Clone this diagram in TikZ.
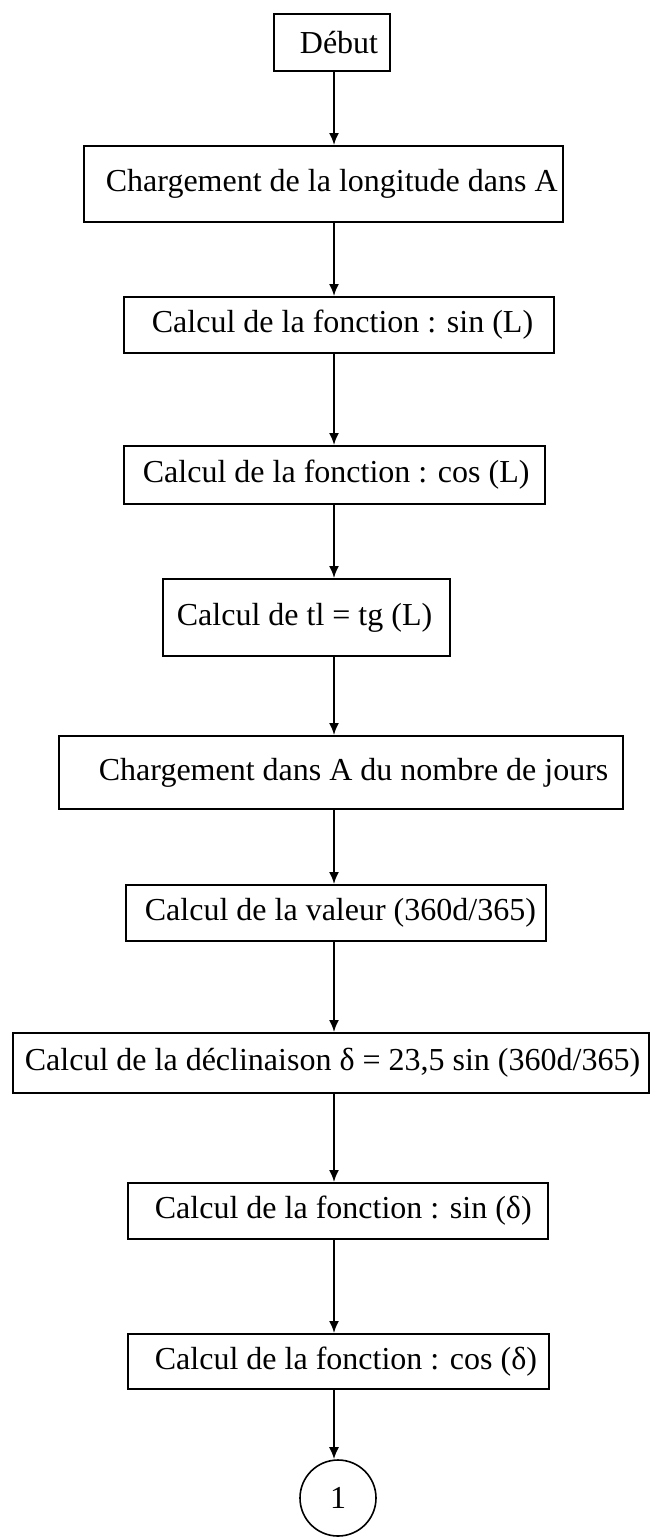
\documentclass[tikz,border=0pt]{standalone}
\usepackage{fontspec}
\setmainfont{Liberation Serif}
\usetikzlibrary{arrows.meta}
\begin{document}
\begin{tikzpicture}[x=1pt,y=-1pt,
  box/.style={draw, line width=1.8pt, inner sep=0pt, anchor=north west,
              font=\fontsize{32}{37}\selectfont},
  link/.style={line width=1.8pt, -{Latex[length=12pt,width=10pt]}},
  conn/.style={draw, circle, line width=1.6pt, inner sep=0pt,
               minimum size=76pt, font=\fontsize{32}{37}\selectfont}]
\useasboundingbox (0,0) rectangle (653,1537);
\coordinate (ax) at (334,0);

% processing steps, top to bottom
\node[box, minimum height=57] (debut) at (273,13)
  {\makebox[116pt][l]{\hspace*{26pt}Début}};
\node[box, minimum height=76] (longi) at (83,145)
  {\makebox[479pt][l]{\hspace*{22pt}Chargement de la longitude dans A}};
\node[box, minimum height=56] (sinL) at (123,296)
  {\makebox[430pt][l]{\hspace*{28pt}Calcul de la fonction : sin (L)}};
\node[box, minimum height=58] (cosL) at (123,445)
  {\makebox[421pt][l]{\hspace*{19pt}Calcul de la fonction : cos (L)}};
\node[box, minimum height=77] (tgL) at (162,578)
  {\makebox[287pt][l]{\hspace*{14pt}Calcul de tl = tg (L)}};
\node[box, minimum height=73] (jours) at (58,735)
  {\makebox[564pt][l]{\hspace*{40pt}Chargement dans A du nombre de jours}};
\node[box, minimum height=56] (valeur) at (125,884)
  {\makebox[420pt][l]{\hspace*{19pt}Calcul de la valeur (360d/365)}};
\node[box, minimum height=60] (decl) at (12,1032)
  {\makebox[636pt][l]{\hspace*{12pt}Calcul de la déclinaison δ = 23,5 sin (360d/365)}};
\node[box, minimum height=56] (sinD) at (127,1182)
  {\makebox[420pt][l]{\hspace*{27pt}Calcul de la fonction : sin (δ)}};
\node[box, minimum height=55] (cosD) at (127,1333)
  {\makebox[421pt][l]{\hspace*{27pt}Calcul de la fonction : cos (δ)}};
\node[conn] (suite) at (338,1498) {1};

% vertical flow arrows
\draw[link] (debut.south -| ax) -- (longi.north -| ax);
\draw[link] (longi.south -| ax) -- (sinL.north -| ax);
\draw[link] (sinL.south -| ax) -- (cosL.north -| ax);
\draw[link] (cosL.south -| ax) -- (tgL.north -| ax);
\draw[link] (tgL.south -| ax) -- (jours.north -| ax);
\draw[link] (jours.south -| ax) -- (valeur.north -| ax);
\draw[link] (valeur.south -| ax) -- (decl.north -| ax);
\draw[link] (decl.south -| ax) -- (sinD.north -| ax);
\draw[link] (sinD.south -| ax) -- (cosD.north -| ax);
\draw[link] (cosD.south -| ax) -- (suite.north -| ax);
\end{tikzpicture}
\end{document}
